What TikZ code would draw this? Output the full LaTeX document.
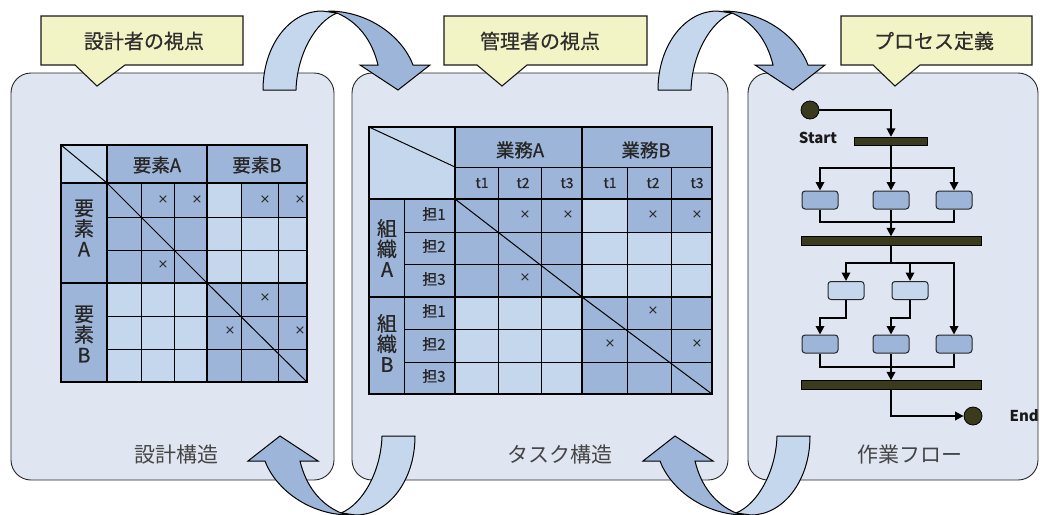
\documentclass[tikz,border=0pt]{standalone}
\usepackage{fontspec}
\setmainfont{Noto Sans CJK JP}
\newfontfamily\cjk{Noto Sans CJK JP}
\newfontfamily\cjkm[FakeBold=0.6]{Noto Sans CJK JP}
\newfontfamily\crossfont{DejaVu Sans}
\usetikzlibrary{arrows.meta}
\definecolor{panelfill}{HTML}{E0E6F1}
\definecolor{cdark}{HTML}{9DB5D8}
\definecolor{clight}{HTML}{C5D7EC}
\definecolor{callfill}{HTML}{F3F4C6}
\definecolor{olive}{HTML}{3A3A1E}
\definecolor{labgray}{HTML}{454545}
\newcommand{\drawribbon}{%
  \draw[ribbonlight] (263,90) .. controls (263,45) and (290,11) .. (322,11)
     -- (337,13) .. controls (315,22) and (297,55) .. (296,90) -- cycle;
  \draw[ribbondark] (328,11) .. controls (368,11) and (402,36) .. (413,65)
     -- (430,65) -- (398,90) -- (360,65) -- (378,65)
     .. controls (372,40) and (358,22) .. (337,13) -- cycle;
}
\begin{document}
\begin{tikzpicture}[x=1pt,y=-1pt,
  panel/.style={draw=black!85, fill=panelfill, line width=0.9pt, rounded corners=20pt},
  callbox/.style={draw=black!90, fill=callfill, line width=1.1pt, line join=miter},
  calltext/.style={font=\cjkm\fontsize{20}{24}\selectfont, text=black!82},
  paneltext/.style={font=\cjk\fontsize{21}{24}\selectfont, text=labgray},
  mhead/.style={font=\cjkm\fontsize{18.5}{20}\selectfont, text=black!85, inner sep=0},
  mvert/.style={font=\cjkm\fontsize{20}{20.5}\selectfont, text=black!85, align=center, inner sep=0},
  tlab/.style={font=\cjkm\fontsize{14}{15}\selectfont, text=black!85, inner sep=0},
  rlab/.style={font=\cjkm\fontsize{15}{16}\selectfont, text=black!85, inner sep=0},
  xmark/.style={font=\crossfont\fontsize{13}{14}\selectfont, text=black!85, inner sep=0},
  gridthin/.style={draw=black, line width=1pt},
  gridthick/.style={draw=black, line width=2.6pt},
  ribbonlight/.style={fill=clight, draw=black, line width=1pt, line join=round},
  ribbondark/.style={fill=cdark, draw=black, line width=1pt, line join=miter},
  flowline/.style={draw=black, line width=1.8pt},
  flowarrow/.style={flowline, -{Triangle[width=8.5pt,length=8.5pt]}},
  syncbar/.style={fill=olive, draw=black, line width=0.8pt, inner sep=0, minimum height=8.5},
  actdark/.style={fill=cdark, draw=black!85, line width=1pt, rounded corners=3pt, inner sep=0, minimum width=36, minimum height=18},
  actlight/.style={actdark, fill=clight},
  endpoint/.style={circle, fill=olive, draw=black, line width=0.8pt, inner sep=0, minimum size=18},
  flowtext/.style={font=\cjk\bfseries\fontsize{15}{16}\selectfont, text=black!90}
]
\useasboundingbox (0,0) rectangle (1040,514);

% ---------- panels ----------
\draw[panel] (11,73) rectangle (334,480);
\draw[panel] (352,73) rectangle (728,480);
\draw[panel] (748,73) rectangle (1038,480);

% ---------- callouts ----------
\draw[callbox] (41,16) -- (243,16) -- (243,65) -- (125,65) -- (97,86) -- (75,65) -- (41,65) -- cycle;
\node[calltext] (c1) at (144,41) {設計者の視点};
\draw[callbox] (444,16) -- (647,16) -- (647,65) -- (527,65) -- (502,86) -- (477,65) -- (444,65) -- cycle;
\node[calltext] (c2) at (540,41) {管理者の視点};
\draw[callbox] (841,16) -- (1032,16) -- (1032,65) -- (920,65) -- (895,86) -- (873,65) -- (841,65) -- cycle;
\node[calltext] (c3) at (934,41) {プロセス定義};

% ---------- panel titles ----------
\node[paneltext] (p1) at (176,455) {設計構造};
\node[paneltext] (p2) at (560,455) {タスク構造};
\node[paneltext] (p3) at (910,455) {作業フロー};

% ---------- matrix 1 ----------
\fill[clight] (61,145) rectangle (307,382);
\fill[cdark] (107,145) rectangle (307,183);
\fill[cdark] (61,183) rectangle (107,382);
\fill[cdark] (107,183) rectangle (207,283);
\fill[cdark] (207,283) rectangle (307,382);
\fill[cdark] (241,183) rectangle (307,217);
\foreach \x in {141,174,241,278} \draw[gridthin] (\x,183) -- (\x,382);
\foreach \y in {217,250,316,349} \draw[gridthin] (107,\y) -- (307,\y);
\draw[gridthin] (61,145) -- (107,183);
\draw[gridthin] (107,183) -- (207,283);
\draw[gridthin] (207,283) -- (307,382);
\draw[gridthick] (107,145) -- (107,382);
\draw[gridthick] (207,145) -- (207,382);
\draw[gridthick] (61,183) -- (307,183);
\draw[gridthick] (61,283) -- (307,283);
\draw[gridthick] (61,145) rectangle (307,382);
\node[mhead] (m1ha) at (157,165) {要素A};
\node[mhead] (m1hb) at (257,165) {要素B};
\node[mvert] (m1ra) at (84,228) {要\\素\\A};
\node[mvert] (m1rb) at (84,334) {要\\素\\B};
\foreach \p [count=\i] in {{163,200},{197,200},{265,200},{300,200},{163,265},{265,298},{230,331},{300,331}}
  \node[xmark] (m1x\i) at (\p) {×};

% ---------- matrix 2 ----------
\fill[clight] (369,127) rectangle (712,394);
\fill[cdark] (455,127) rectangle (712,199);
\fill[cdark] (369,199) rectangle (455,394);
\fill[cdark] (455,199) rectangle (582,297);
\fill[cdark] (582,297) rectangle (712,394);
\fill[cdark] (627,199) rectangle (712,232);
\draw[gridthin] (455,167) -- (712,167);
\foreach \x in {498,541,627,671} \draw[gridthin] (\x,167) -- (\x,394);
\foreach \y in {232,264,329,362} \draw[gridthin] (404,\y) -- (712,\y);
\draw[gridthin] (404,199) -- (404,394);
\draw[gridthin] (369,127) -- (455,167);
\draw[gridthin] (455,199) -- (582,297);
\draw[gridthin] (582,297) -- (712,394);
\draw[gridthick] (455,127) -- (455,394);
\draw[gridthick] (582,127) -- (582,394);
\draw[gridthick] (369,199) -- (712,199);
\draw[gridthick] (369,297) -- (712,297);
\draw[gridthick] (369,127) rectangle (712,394);
\node[mhead] (m2ha) at (520,150) {業務A};
\node[mhead] (m2hb) at (646,150) {業務B};
\node[tlab] (ta1) at (482,183) {t1};
\node[tlab] (ta2) at (523,183) {t2};
\node[tlab] (ta3) at (567,183) {t3};
\node[tlab] (tb1) at (610,183) {t1};
\node[tlab] (tb2) at (653,183) {t2};
\node[tlab] (tb3) at (697,183) {t3};
\node[rlab] (ra1) at (434,214) {担1};
\node[rlab] (ra2) at (434,246) {担2};
\node[rlab] (ra3) at (434,279) {担3};
\node[rlab] (rb1) at (434,311) {担1};
\node[rlab] (rb2) at (434,344) {担2};
\node[rlab] (rb3) at (434,376) {担3};
\node[mvert] (m2ga) at (387,248) {組\\織\\A};
\node[mvert] (m2gb) at (387,343) {組\\織\\B};
\foreach \p [count=\i] in {{525,215},{568,215},{653,215},{697,215},{525,278},{653,311},{610,344},{697,344}}
  \node[xmark] (m2x\i) at (\p) {×};

% ---------- flow ----------
\node[endpoint] (st) at (810,110) {};
\node[flowtext] (stl) at (818,138) {Start};
\node[syncbar, minimum width=73] (b1) at (891,141.5) {};
\node[actdark] (r1a) at (820,200) {};
\node[actdark] (r1b) at (891,200) {};
\node[actdark] (r1c) at (954,200) {};
\node[syncbar, minimum width=180] (b2) at (891,241) {};
\node[actlight] (r2a) at (846,290.5) {};
\node[actlight] (r2b) at (910,290.5) {};
\node[actdark] (r3a) at (820,344) {};
\node[actdark] (r3b) at (891,344) {};
\node[actdark] (r3c) at (954,344) {};
\node[syncbar, minimum width=180] (b3) at (891,385) {};
\node[endpoint] (en) at (973,416) {};
\node[flowtext, anchor=west] (enl) at (1006,416) {End};

\draw[flowarrow] (st.east) -| (b1.north);
\draw[flowarrow] (b1.south) -- ++(0,22) -| (r1a.north);
\draw[flowarrow] (b1.south) -- ++(0,22) -| (r1c.north);
\draw[flowarrow] (b1.south) -- (r1b.north);
\coordinate (j2) at (891,222);
\draw[flowline] (r1a.south) |- (j2);
\draw[flowline] (r1c.south) |- (j2);
\draw[flowarrow] (r1b.south) -- (b2.north);
\coordinate (j3) at (891,263);
\draw[flowline] (b2.south) -- (j3);
\draw[flowarrow] (j3) -| (r2a.north);
\draw[flowarrow] (j3) -| (r2b.north);
\draw[flowarrow] (j3) -| (r3c.north);
\draw[flowarrow] (r2a.south) -- ++(0,18) -| (r3a.north);
\draw[flowarrow] (r2b.south) -- ++(0,18) -| (r3b.north);
\coordinate (j4) at (891,367);
\draw[flowline] (r3a.south) |- (j4);
\draw[flowline] (r3c.south) |- (j4);
\draw[flowarrow] (r3b.south) -- (b3.north);
\draw[flowarrow] (b3.south) |- (en.west);

% ---------- ribbon arrows ----------
\begin{scope}
\clip (0,0) rectangle (1040,514);
\drawribbon
\begin{scope}[shift={(395,0)}] \drawribbon \end{scope}
\begin{scope}[shift={(678,526)}, xscale=-1, yscale=-1] \drawribbon \end{scope}
\begin{scope}[shift={(1073,526)}, xscale=-1, yscale=-1] \drawribbon \end{scope}
\end{scope}
\end{tikzpicture}
\end{document}
